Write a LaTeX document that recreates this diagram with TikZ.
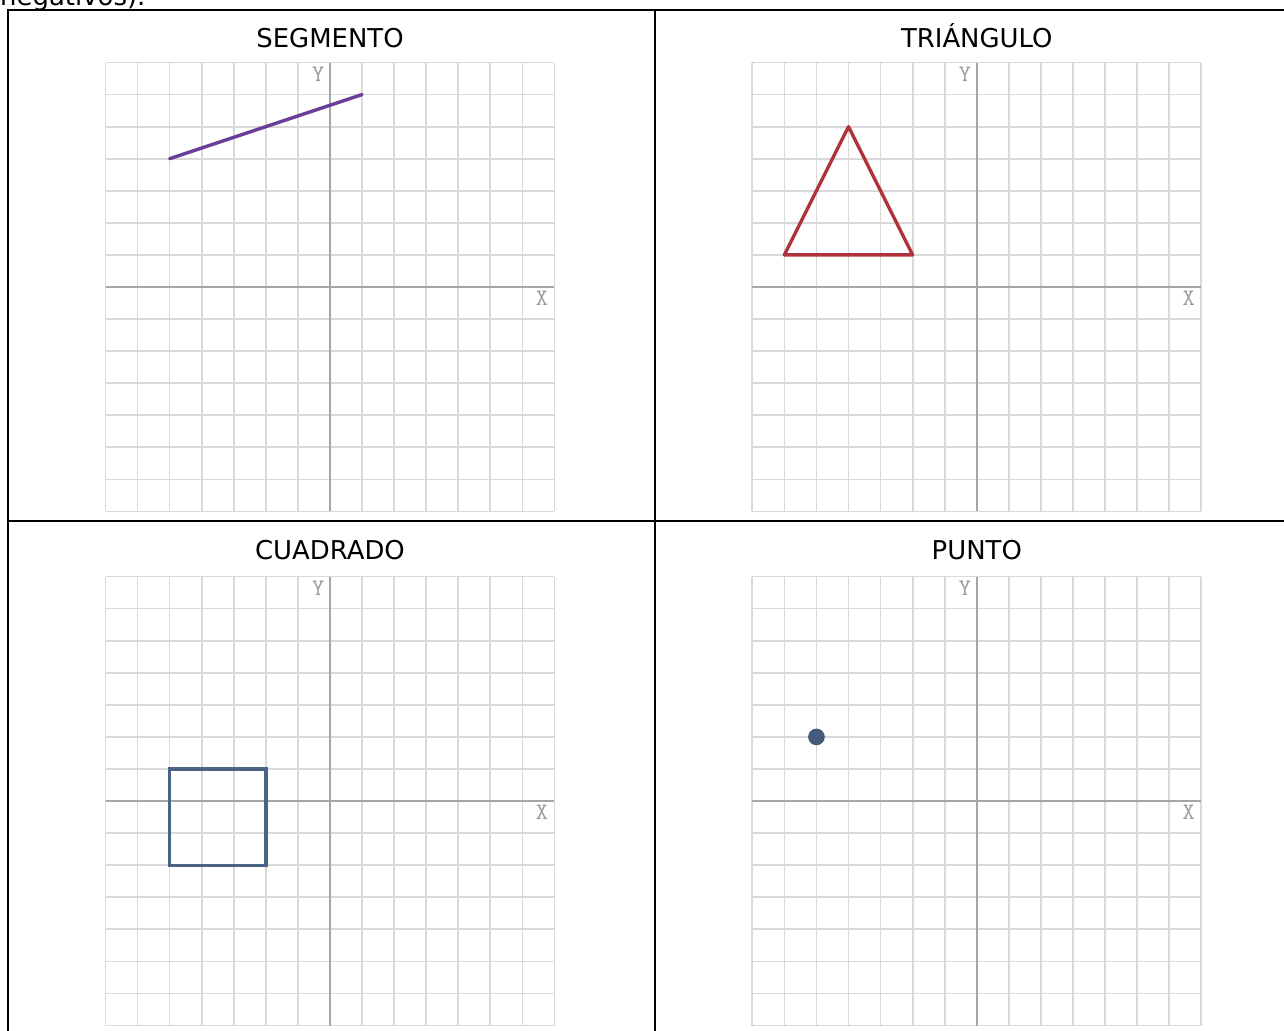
\documentclass[tikz,border=0pt]{standalone}
\usepackage{fontspec}
\setmainfont{DejaVu Sans}
\usepackage{xcolor}
\usetikzlibrary{calc}

\definecolor{morado}{HTML}{6A3D9A}
\definecolor{rojo}{HTML}{B0323C}
\definecolor{azul}{HTML}{4B6485}
\definecolor{punto}{HTML}{455B7D}

% Plano cartesiano de 14 x 14 con etiquetas de ejes
\newcommand{\plano}[1]{%
    \draw[rejilla] (-7,-7) grid (7,7);
    \draw[eje] (-7,0) -- (7,0);
    \draw[eje] (0,-7) -- (0,7);
    \node[etiqueta] (#1Y) at (-0.37,6.64) {Y};
    \node[etiqueta] (#1X) at (6.61,-0.34) {X};
}

\begin{document}
\begin{tikzpicture}[
    % Estilos de la tabla y de los planos
    rejilla/.style={draw=black!15, line width=1.5pt},
    eje/.style={draw=black!35, line width=1.4pt},
    etiqueta/.style={text=black!40, font=\ttfamily\fontsize{21}{21}\selectfont, inner sep=0pt},
    titulo/.style={font=\fontsize{23}{23}\selectfont, anchor=base, inner sep=0pt},
    tabla/.style={draw=black, line width=2pt},
    figura/.style={line width=3pt, line join=round, line cap=round}
]
    \useasboundingbox (0,0) rectangle (40.04,32.12);

    % 1. Texto previo (cortado arriba)
    \node[anchor=base west, inner sep=0pt, font=\fontsize{23}{23}\selectfont] (intro) at (0,31.96) {negativos).};

    % 2. La tabla de 2 x 2
    \draw[tabla] (0.25,-0.3) -- (0.25,31.81) -- (40.3,31.81);
    \draw[tabla] (20.42,-0.3) -- (20.42,31.81);
    \draw[tabla] (0.25,15.87) -- (40.3,15.87);
    \draw[tabla] (40.1,-0.3) -- (40.1,31.81);

    % 3. Titulos de cada celda
    \node[titulo] (tSeg) at (10.29,30.65) {SEGMENTO};
    \node[titulo] (tTri) at (30.46,30.65) {TRIÁNGULO};
    \node[titulo] (tCua) at (10.29,14.66) {CUADRADO};
    \node[titulo] (tPun) at (30.46,14.66) {PUNTO};

    % 4. Segmento
    \begin{scope}[shift={(10.29,23.17)}]
        \plano{seg}
        \coordinate (A) at (-5,4);
        \coordinate (B) at (1,6);
        \draw[figura, morado] (A) -- (B);
    \end{scope}

    % 5. Triangulo
    \begin{scope}[shift={(30.46,23.17)}]
        \plano{tri}
        \coordinate (P) at (-4,5);
        \coordinate (Q) at (-6,1);
        \coordinate (R) at (-2,1);
        \draw[figura, rojo] (P) -- (Q) -- (R) -- cycle;
    \end{scope}

    % 6. Cuadrado
    \begin{scope}[shift={(10.29,7.14)}]
        \plano{cua}
        \draw[figura, azul, line cap=butt, line join=miter] (-5,1) rectangle (-2,-2);
    \end{scope}

    % 7. Punto
    \begin{scope}[shift={(30.46,7.14)}]
        \plano{pun}
        \coordinate (C) at (-5,2);
        \fill[punto] (C) circle (0.26);
    \end{scope}

\end{tikzpicture}
\end{document}
